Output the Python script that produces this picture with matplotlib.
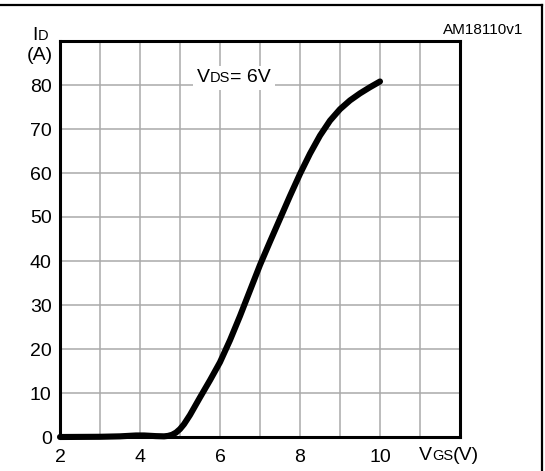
import matplotlib
matplotlib.use("Agg")
import matplotlib.pyplot as plt
from matplotlib.lines import Line2D
from matplotlib.offsetbox import AnnotationBbox, HPacker, TextArea

plt.rcParams["font.family"] = ["Liberation Sans", "DejaVu Sans"]

# transfer characteristic, ID vs VGS at VDS = 6 V
vgs = [2.0, 3.0, 3.5, 3.9, 4.1, 4.4, 4.6, 4.7, 4.8, 4.9, 5.0, 5.1, 5.25,
       5.5, 5.75, 6.0, 6.25, 6.5, 6.75, 7.0, 7.25, 7.5, 7.75, 8.0, 8.25,
       8.5, 8.75, 9.0, 9.25, 9.5, 9.75, 10.0]
id_a = [0.0, 0.05, 0.15, 0.35, 0.35, 0.2, 0.15, 0.25, 0.5, 1.0, 1.8, 2.9,
        5.0, 9.0, 12.9, 17.0, 22.0, 27.5, 33.3, 39.1, 44.4, 49.6, 54.8, 59.8,
        64.4, 68.5, 71.9, 74.5, 76.5, 78.1, 79.5, 80.8]

x_ticks = [2, 3, 4, 5, 6, 7, 8, 9, 10, 11, 12]
x_labels = ["2", "", "4", "", "6", "", "8", "", "10", "", ""]
y_ticks = [0, 10, 20, 30, 40, 50, 60, 70, 80, 90]
y_labels = ["0", "10", "20", "30", "40", "50", "60", "70", "80", ""]

W, H = 545, 471
fig = plt.figure(figsize=(W / 100, H / 100), dpi=100)
ax = fig.add_axes([60 / W, 1 - 437 / H, 400 / W, 396 / H])

ax.plot(vgs, id_a, color="black", lw=4.4, solid_capstyle="round",
        solid_joinstyle="round", zorder=5, clip_on=False)

ax.set_xlim(2, 12)
ax.set_ylim(0, 90)
ax.set_xticks(x_ticks)
ax.set_xticklabels(x_labels)
ax.set_yticks(y_ticks)
ax.set_yticklabels(y_labels)
ax.tick_params(length=0, labelsize=14, colors="black")
ax.tick_params(axis="x", pad=9)
ax.tick_params(axis="y", pad=6)
ax.grid(True, color="#aaaaaa", lw=1.1)
ax.set_axisbelow(True)
for sp in ax.spines.values():
    sp.set_linewidth(2.2)
    sp.set_zorder(6)

# outer frame (top and right edges)
fig.add_artist(Line2D([0, 542 / W], [1 - 5 / H, 1 - 5 / H], color="black",
                      lw=1.6, transform=fig.transFigure))
fig.add_artist(Line2D([542 / W, 542 / W], [1 - 5 / H, 0], color="black",
                      lw=1.6, transform=fig.transFigure))


def mixed_label(parts, xy, coords, box_align, bg=None):
    areas = [TextArea(t, textprops=dict(fontsize=s, color="black"))
             for t, s in parts]
    pack = HPacker(children=areas, align="baseline", pad=0, sep=0)
    ab = AnnotationBbox(pack, xy, xycoords=coords, box_alignment=box_align,
                        frameon=bg is not None, pad=0.25,
                        bboxprops=dict(fc="white", ec="none") if bg else None)
    ab.set_zorder(4)
    ax.add_artist(ab) if coords == "data" else fig.add_artist(ab)
    return ab


mixed_label([("I", 14), ("D", 10.5)], (32 / W, 1 - 36 / H),
            fig.transFigure, (0, 0.5))
fig.text(40 / W, 1 - 56 / H, "(A)", fontsize=14, ha="center", va="center")
mixed_label([("V", 14), ("DS", 10.5), ("= 6V", 14)], (6.35, 81.6), "data",
            (0.5, 0.5), bg=True)
mixed_label([("V", 14), ("GS", 10.5), ("(V)", 14)], (419 / W, 1 - 455 / H),
            fig.transFigure, (0, 0.5))
fig.text(523 / W, 1 - 30 / H, "AM18110v1", fontsize=11, ha="right",
         va="center")

fig.savefig("out.png", dpi=100)
